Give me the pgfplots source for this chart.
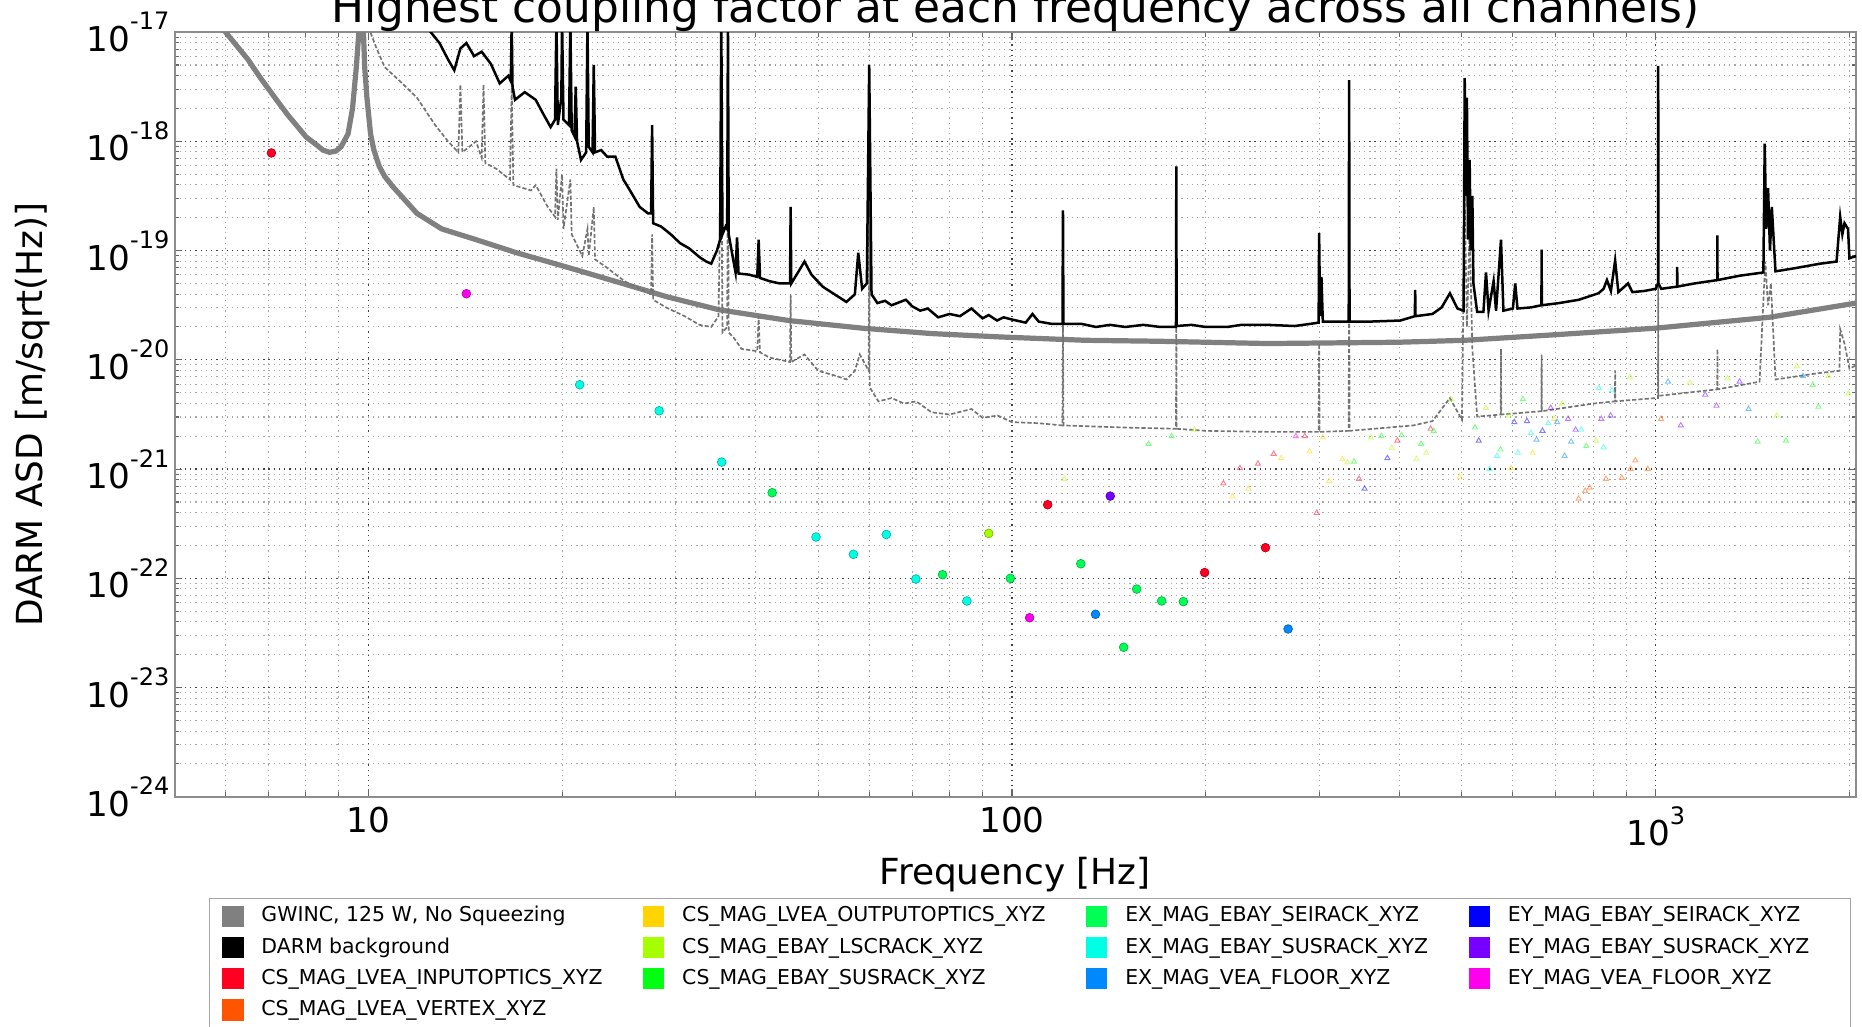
\documentclass[border=0pt]{standalone}
\usepackage{fontspec}
\setmainfont{DejaVu Sans}
\usepackage{pgfplots}
\pgfplotsset{compat=1.18}
\definecolor{cRed}{HTML}{FF0022}
\definecolor{cOrange}{HTML}{FF5500}
\definecolor{cGold}{HTML}{FFD400}
\definecolor{cLime}{HTML}{A5FF00}
\definecolor{cGreen}{HTML}{00FF11}
\definecolor{cSpring}{HTML}{00FF55}
\definecolor{cCyan}{HTML}{00FFE5}
\definecolor{cAzure}{HTML}{0088FF}
\definecolor{cBlue}{HTML}{0000FF}
\definecolor{cViolet}{HTML}{7700FF}
\definecolor{cMagenta}{HTML}{FF00EE}
\definecolor{gwgray}{HTML}{808080}
\newcommand{\tp}[1]{10\raisebox{10.3pt}{\fontsize{11.5}{12}\selectfont #1}}
\newcommand{\sqimg}[1]{\addlegendimage{legend image code/.code={\fill[#1] (0cm,-0.17cm) rectangle (0.34cm,0.17cm);}}}
\pgfplotsset{
  tri/.style={forget plot, only marks, mark=triangle, mark size=1.4pt, opacity=0.5, mark options={line width=0.45pt}},
  dot/.style={forget plot, only marks, mark=*, mark size=2.1pt, mark options={fill=#1, draw=#1!70!black, line width=0.3pt}},
}
\begin{document}
\begin{tikzpicture}
\begin{axis}[
  scale only axis, width=28.32cm, height=12.88cm,
  xmode=log, ymode=log,
  xmin=5, xmax=2048, ymin=1e-24, ymax=1e-17,
  xtick={10,100,1000}, xticklabels={10,100,\tp{3}},
  ytick={1e-24,1e-23,1e-22,1e-21,1e-20,1e-19,1e-18,1e-17},
  yticklabels={\tp{-24},\tp{-23},\tp{-22},\tp{-21},\tp{-20},\tp{-19},\tp{-18},\tp{-17}},
  minor xtick={6,7,8,9,20,30,40,50,60,70,80,90,200,300,400,500,600,700,800,900,2000},
  minor ytick={2e-24,3e-24,4e-24,5e-24,6e-24,7e-24,8e-24,9e-24,
               2e-23,3e-23,4e-23,5e-23,6e-23,7e-23,8e-23,9e-23,
               2e-22,3e-22,4e-22,5e-22,6e-22,7e-22,8e-22,9e-22,
               2e-21,3e-21,4e-21,5e-21,6e-21,7e-21,8e-21,9e-21,
               2e-20,3e-20,4e-20,5e-20,6e-20,7e-20,8e-20,9e-20,
               2e-19,3e-19,4e-19,5e-19,6e-19,7e-19,8e-19,9e-19,
               2e-18,3e-18,4e-18,5e-18,6e-18,7e-18,8e-18,9e-18},
  grid=both,
  major grid style={dash pattern=on 0.6pt off 1.9pt, black!75, line width=0.6pt},
  minor grid style={dash pattern=on 0.6pt off 1.9pt, black!35, line width=0.5pt},
  axis line style={black!45, line width=0.9pt},
  tick align=inside, xtick pos=both, ytick pos=both,
  major tick length=3.7pt, minor tick length=2.2pt,
  tick style={black!60, line width=0.5pt},
  tick label style={font=\fontsize{16.4}{18}\selectfont},
  yticklabel style={inner xsep=2.3pt},
  xticklabel style={inner ysep=4.5pt},
  title={Highest coupling factor at each frequency across all channels)},
  title style={at={(axis description cs:0.5,1)}, anchor=base, yshift=-0.05cm, inner sep=0pt, font=\fontsize{21}{24}\selectfont},
  xlabel={Frequency [Hz]},
  xlabel style={at={(axis description cs:0.5,-0.115)}, anchor=base, inner sep=0pt, font=\fontsize{17.2}{20}\selectfont},
  ylabel={DARM ASD [m/sqrt(Hz)]},
  ylabel style={at={(axis description cs:-0.0847,0.5)}, anchor=center, rotate=0, inner sep=0pt, font=\fontsize{17.2}{20}\selectfont},
  legend columns=4,
  legend cell align=left,
  legend style={at={(axis description cs:0.0205,-0.132)}, anchor=north west,
    draw=black!35, line width=0.6pt, fill=white,
    font=\fontsize{9.8}{11}\selectfont,
    inner xsep=6pt, inner ysep=3.5pt, row sep=4.65pt,
    nodes={inner sep=0pt, text height=7.2pt, text depth=2pt},
    /tikz/every odd column/.append style={column sep=0.3cm},
    /tikz/every even column/.append style={column sep=0.68cm}},
]
% GWINC
\addplot[forget plot, gwgray, line width=2.5pt] coordinates {
(5.8,1.26e-17) (6.0,1.0e-17) (6.5,5.62e-18) (6.8,3.80e-18) (7.2,2.40e-18) (7.5,1.74e-18) (7.8,1.32e-18) (8.0,1.10e-18) (8.3,9.33e-19) (8.5,8.32e-19) (8.7,7.94e-19) (8.9,8.13e-19) (9.07,8.91e-19) (9.3,1.17e-18) (9.45,2.0e-18) (9.58,4.79e-18) (9.68,1.12e-17) (9.75,3.16e-17) (9.82,1.12e-17) (9.87,4.79e-18) (9.95,2.51e-18) (10.08,1.17e-18) (10.2,8.32e-19) (10.4,5.89e-19) (10.6,4.79e-19) (10.9,3.89e-19) (11.9,2.19e-19) (13,1.58e-19) (14.7,1.26e-19) (17,9.55e-20) (19.5,7.59e-20) (22,6.17e-20) (24.8,5.01e-20) (29,3.80e-20) (35,2.88e-20) (45,2.29e-20) (58.5,1.95e-20) (75,1.74e-20) (96,1.62e-20) (130,1.51e-20) (169,1.48e-20) (250,1.41e-20) (400,1.45e-20) (505,1.51e-20) (700,1.70e-20) (1000,1.95e-20) (1500,2.45e-20) (2048,3.31e-20)
};
% gray dashed reference
\addplot[forget plot, black!55, line width=0.8pt, dash pattern=on 2pt off 1pt] coordinates {
(10.0,1.12e-17) (10.3,7.08e-18) (10.6,4.79e-18) (11.2,3.55e-18) (11.9,2.51e-18) (12.7,1.41e-18) (13.3,1.0e-18) (13.8,7.94e-19) (13.9,3.31e-18) (14.0,7.94e-19) (14.7,1.0e-18) (15.0,7.08e-19) (15.1,3.31e-18) (15.2,6.31e-19) (15.8,5.62e-19) (16.6,4.47e-19) (16.7,3.31e-18) (16.8,3.98e-19) (17.9,3.55e-19) (18.2,3.98e-19) (19.0,2.51e-19) (19.5,2.04e-19) (19.6,5.62e-19) (19.7,1.91e-19) (20.0,5.01e-19) (20.1,1.58e-19) (20.6,4.47e-19) (20.7,1.41e-19) (21.5,8.91e-20) (21.9,1.58e-19) (22.0,8.91e-20) (22.4,2.51e-19) (22.5,8.32e-20) (23.4,7.08e-20) (25,5.25e-20) (26.4,4.47e-20) (27.5,3.98e-20) (27.6,1.41e-19) (27.7,3.55e-20) (29,3.02e-20) (31,2.51e-20) (32.7,2.09e-20) (34.1,2.0e-20) (35.0,2.51e-20) (35.35,1.0e-18) (35.5,1.78e-20) (36.1,2.0e-20) (36.2,1.0e-18) (36.3,1.78e-20) (37,1.58e-20) (38,1.26e-20) (40.2,1.20e-20) (40.4,2.51e-20) (40.6,1.17e-20) (42,1.05e-20) (45.2,9.55e-21) (45.3,3.98e-20) (45.4,9.55e-21) (47.6,1.12e-20) (50,7.94e-21) (53.5,7.08e-21) (55.3,6.61e-21) (57.0,7.94e-21) (58,1.12e-20) (59.9,7.94e-21) (60,4.47e-19) (60.1,5.62e-21) (62,4.17e-21) (65,4.47e-21) (68,3.98e-21) (71,4.17e-21) (75,3.31e-21) (80,3.16e-21) (86.5,3.55e-21) (90,2.95e-21) (95,3.09e-21) (100,2.69e-21) (110,2.63e-21) (119.8,2.51e-21) (120,2.51e-20) (120.2,2.51e-21) (150,2.40e-21) (179.8,2.34e-21) (180,3.16e-20) (180.2,2.34e-21) (200,2.24e-21) (250,2.19e-21) (299.5,2.19e-21) (300,1.41e-20) (300.5,2.19e-21) (333.5,2.24e-21) (334,2.51e-19) (334.5,2.24e-21) (420,2.51e-21) (450,2.75e-21) (479,4.47e-21) (500,2.82e-21) (505,3.16e-19) (509,2.0e-20) (514,1.58e-19) (519,1.26e-20) (528,3.02e-21) (574.5,3.16e-21) (575,1.26e-20) (575.5,3.16e-21) (664.5,3.39e-21) (665,1.12e-20) (665.5,3.39e-21) (800,3.98e-21) (864.5,4.17e-21) (865,7.94e-21) (865.5,4.17e-21) (1000,4.47e-21) (1008.5,4.47e-21) (1009,3.98e-19) (1009.5,4.68e-21) (1246.5,5.37e-21) (1247,1.26e-20) (1247.5,5.37e-21) (1450,6.31e-21) (1480,7.94e-20) (1495,3.16e-20) (1510,5.01e-20) (1535,6.61e-21) (1800,7.59e-21) (1930,7.94e-21) (1935,1.91e-20) (1965,1.41e-20) (2000,8.32e-21) (2048,8.91e-21)
};
% DARM background
\addplot[forget plot, black, line width=1.2pt] coordinates {
(12.0,1.41e-17) (12.5,1.0e-17) (12.9,7.94e-18) (13.3,5.62e-18) (13.6,4.47e-18) (13.9,7.08e-18) (14.2,7.94e-18) (14.6,6.03e-18) (15.0,6.61e-18) (15.5,5.13e-18) (16.0,3.39e-18) (16.5,3.98e-18) (16.65,3.55e-18) (16.7,1.26e-17) (16.75,3.16e-18) (16.9,2.40e-18) (17.5,2.82e-18) (18.2,2.40e-18) (18.7,1.78e-18) (19.2,1.35e-18) (19.5,1.58e-18) (19.6,1.26e-17) (19.7,1.41e-18) (19.95,2.51e-18) (20.0,1.26e-17) (20.1,1.58e-18) (20.5,1.41e-18) (20.6,1.26e-17) (20.7,1.26e-18) (20.9,1.12e-18) (21.0,3.16e-18) (21.1,1.0e-18) (21.4,6.76e-19) (21.8,7.94e-19) (21.9,1.26e-17) (22.0,8.91e-19) (22.3,7.94e-19) (22.4,5.01e-18) (22.5,7.94e-19) (23.0,8.32e-19) (23.5,7.24e-19) (24.2,7.24e-19) (24.9,4.47e-19) (25.5,3.55e-19) (26.4,2.51e-19) (27.2,2.19e-19) (27.5,2.19e-19) (27.6,1.41e-18) (27.7,1.78e-19) (28.5,1.66e-19) (29.5,1.41e-19) (30.5,1.17e-19) (31.5,1.05e-19) (32.7,8.71e-20) (33.5,7.94e-20) (34.1,7.59e-20) (34.8,1.0e-19) (35.2,1.26e-19) (35.35,1.26e-17) (35.5,1.41e-19) (35.9,1.66e-19) (36.1,1.58e-19) (36.2,1.26e-17) (36.3,1.41e-19) (36.8,8.91e-20) (37.2,6.31e-20) (37.4,1.32e-19) (37.6,6.17e-20) (39,6.03e-20) (40.2,5.75e-20) (40.4,1.26e-19) (40.6,5.62e-20) (42,5.25e-20) (43.5,5.01e-20) (45.2,5.01e-20) (45.3,2.51e-19) (45.4,5.01e-20) (46.5,6.31e-20) (47.6,7.94e-20) (48.8,6.03e-20) (50.8,4.68e-20) (53,3.98e-20) (55.3,3.39e-20) (57.0,3.98e-20) (57.7,9.55e-20) (58.5,4.47e-20) (59.5,5.01e-20) (60.0,5.01e-18) (60.5,3.98e-20) (61.8,3.31e-20) (63.5,3.47e-20) (65,3.16e-20) (68.4,3.55e-20) (70,3.09e-20) (72,2.82e-20) (74,2.95e-20) (76.8,2.45e-20) (80,2.63e-20) (83,2.51e-20) (86.5,2.95e-20) (90,2.40e-20) (92,2.57e-20) (94.8,2.29e-20) (97,2.45e-20) (100,2.34e-20) (105,2.19e-20) (107.6,2.63e-20) (110,2.24e-20) (115,2.14e-20) (119.8,2.14e-20) (120,2.34e-19) (120.2,2.14e-20) (128,2.14e-20) (135,2.0e-20) (142,2.09e-20) (150,2.0e-20) (160,2.09e-20) (170,2.0e-20) (179.8,2.0e-20) (180,5.89e-19) (180.2,2.04e-20) (190,2.09e-20) (200,2.0e-20) (216,2.0e-20) (227,2.09e-20) (250,2.09e-20) (275,2.04e-20) (299.5,2.19e-20) (300,1.45e-19) (301,2.51e-20) (302.5,5.75e-20) (304,2.24e-20) (320,2.24e-20) (333.5,2.24e-20) (334,3.63e-18) (334.5,2.24e-20) (360,2.24e-20) (401,2.29e-20) (422.5,2.51e-20) (423,4.37e-20) (423.5,2.51e-20) (450,2.63e-20) (465,3.02e-20) (479,4.07e-20) (492,2.95e-20) (503,2.82e-20) (505,3.80e-18) (507,3.16e-19) (509,2.51e-18) (511,1.26e-19) (514,6.76e-19) (516,1.0e-19) (519,3.16e-19) (521,5.01e-20) (528,2.75e-20) (540,2.75e-20) (545,6.31e-20) (550,2.82e-20) (560,5.25e-20) (565,2.82e-20) (575,1.26e-19) (580,2.82e-20) (600,2.95e-20) (605,5.01e-20) (610,2.95e-20) (640,3.02e-20) (664.5,3.16e-20) (665,1.02e-19) (665.5,3.16e-20) (708,3.31e-20) (760,3.55e-20) (815,4.07e-20) (830,4.47e-20) (840,5.37e-20) (852,4.27e-20) (865,8.13e-20) (875,4.17e-20) (906,5.01e-20) (920,4.17e-20) (960,4.27e-20) (1000,4.47e-20) (1008.5,5.01e-20) (1009,4.90e-18) (1010,5.01e-20) (1020,4.47e-20) (1079.5,4.68e-20) (1080,7.08e-20) (1080.5,4.68e-20) (1150,5.01e-20) (1246.5,5.37e-20) (1247,1.38e-19) (1247.5,5.37e-20) (1350,5.89e-20) (1470,6.31e-20) (1477,9.55e-19) (1485,1.58e-19) (1495,3.72e-19) (1505,1.0e-19) (1515,2.51e-19) (1535,6.46e-20) (1650,6.92e-20) (1800,7.59e-20) (1910,7.94e-20) (1935,2.04e-19) (1950,1.41e-19) (1965,1.78e-19) (1990,1.58e-19) (2000,8.51e-20) (2048,8.91e-20)
};
% faint triangles (upper limits)
\addplot[tri, cRed] coordinates {(213,7.41e-22) (226,1.02e-21) (241,1.12e-21) (255,1.38e-21) (285,2.0e-21) (297.5,3.98e-22) (346,8.13e-22) (397,1.82e-21) (447,2.34e-21)};
\addplot[tri, cOrange] coordinates {(759,5.37e-22) (777,6.31e-22) (790,6.76e-22) (837,8.13e-22) (886,8.32e-22) (914,1.0e-21) (930,1.20e-21) (972,1.0e-21) (1019,2.88e-21)};
\addplot[tri, cGold] coordinates {(220,5.62e-22) (233,6.61e-22) (262,1.26e-21) (290,1.45e-21) (304,1.95e-21) (311,7.76e-22) (326,1.23e-21) (496,8.51e-22) (596,1.02e-21) (644,1.41e-21) (696,2.88e-21)};
\addplot[tri, cLime] coordinates {(120.6,8.13e-22) (192,2.29e-21) (332,1.15e-21) (361,1.95e-21) (389,1.55e-21) (425,1.23e-21) (440,1.41e-21) (481,4.37e-21) (545,3.63e-21) (591,3.09e-21) (716,3.98e-21) (808,1.82e-21) (913,6.92e-21) (1130,6.17e-21) (1293,6.76e-21) (1542,3.09e-21) (1657,8.71e-21) (1855,7.08e-21) (1993,4.90e-21)};
\addplot[tri, cGreen] coordinates {(163,1.70e-21) (177,2.0e-21) (340,1.17e-21) (375,2.0e-21) (403,2.04e-21) (432,1.70e-21) (452,2.24e-21) (524,2.40e-21) (574,1.51e-21) (622,4.37e-21) (780,1.62e-21) (1440,1.78e-21) (1594,1.82e-21) (1754,5.89e-21) (1790,3.72e-21)};
\addplot[tri, cCyan] coordinates {(552,1.0e-21) (567,1.32e-21) (611,1.41e-21) (640,2.14e-21) (681,2.63e-21) (766,2.29e-21) (816,5.50e-21) (830,1.58e-21) (855,5.25e-21)};
\addplot[tri, cAzure] coordinates {(653,1.86e-21) (703,2.69e-21) (722,1.32e-21) (739,1.78e-21) (1045,6.31e-21) (1394,3.55e-21) (1694,7.08e-21)};
\addplot[tri, cBlue] coordinates {(353,6.61e-22) (383,1.26e-21) (531,1.82e-21) (603,2.69e-21) (631,2.75e-21) (667,2.24e-21)};
\addplot[tri, cViolet] coordinates {(687,3.63e-21) (731,2.88e-21) (751,2.29e-21) (823,2.88e-21) (851,3.09e-21) (1094,2.51e-21) (1194,4.79e-21) (1243,3.80e-21) (1350,6.31e-21)};
\addplot[tri, cMagenta] coordinates {(276,2.0e-21)};
% coupling points
\addplot[dot=cRed] coordinates {(7.07,7.83e-19) (113.6,4.72e-22) (199.2,1.13e-22) (247.6,1.91e-22)};
\addplot[dot=cLime] coordinates {(92.0,2.58e-22)};
\addplot[dot=cSpring] coordinates {(42.4,6.08e-22) (78.0,1.08e-22) (99.4,1.0e-22) (127.9,1.36e-22) (149.1,2.34e-23) (156.2,7.98e-23) (170.8,6.21e-23) (184.6,6.12e-23)};
\addplot[dot=cCyan] coordinates {(21.3,5.92e-21) (28.3,3.42e-21) (35.4,1.16e-21) (49.6,2.39e-22) (56.7,1.66e-22) (63.8,2.52e-22) (70.9,9.86e-23) (85.1,6.21e-23)};
\addplot[dot=cAzure] coordinates {(134.8,4.69e-23) (268.5,3.44e-23)};
\addplot[dot=cViolet] coordinates {(142.1,5.66e-22)};
\addplot[dot=cMagenta] coordinates {(14.2,4.03e-20) (106.5,4.36e-23)};
% legend (row-major order of the four columns)
\sqimg{gwgray}\addlegendentry{GWINC, 125 W, No Squeezing}
\sqimg{cGold}\addlegendentry{CS\_MAG\_LVEA\_OUTPUTOPTICS\_XYZ}
\sqimg{cSpring}\addlegendentry{EX\_MAG\_EBAY\_SEIRACK\_XYZ}
\sqimg{cBlue}\addlegendentry{EY\_MAG\_EBAY\_SEIRACK\_XYZ}
\sqimg{black}\addlegendentry{DARM background}
\sqimg{cLime}\addlegendentry{CS\_MAG\_EBAY\_LSCRACK\_XYZ}
\sqimg{cCyan}\addlegendentry{EX\_MAG\_EBAY\_SUSRACK\_XYZ}
\sqimg{cViolet}\addlegendentry{EY\_MAG\_EBAY\_SUSRACK\_XYZ\hspace*{0.48cm}}
\sqimg{cRed}\addlegendentry{CS\_MAG\_LVEA\_INPUTOPTICS\_XYZ}
\sqimg{cGreen}\addlegendentry{CS\_MAG\_EBAY\_SUSRACK\_XYZ}
\sqimg{cAzure}\addlegendentry{EX\_MAG\_VEA\_FLOOR\_XYZ}
\sqimg{cMagenta}\addlegendentry{EY\_MAG\_VEA\_FLOOR\_XYZ}
\sqimg{cOrange}\addlegendentry{CS\_MAG\_LVEA\_VERTEX\_XYZ}
\end{axis}
\pgfresetboundingbox
\path[use as bounding box] ([shift={(-2.94cm,-3.86cm)}]current axis.south west) rectangle ([shift={(28.42cm,13.42cm)}]current axis.south west);
\end{tikzpicture}
\end{document}
